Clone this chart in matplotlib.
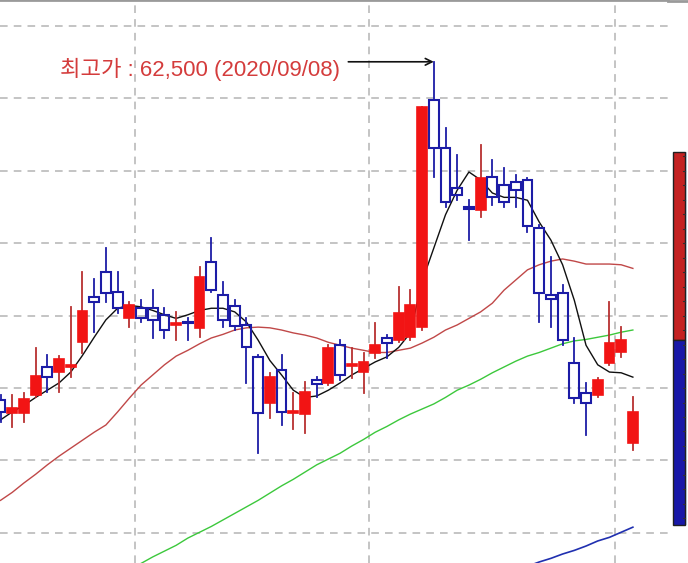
import matplotlib
matplotlib.use("Agg")
import matplotlib.pyplot as plt
from matplotlib.patches import Rectangle
import numpy as np

plt.rcParams['font.family'] = ['Liberation Sans', 'Noto Sans CJK KR', 'DejaVu Sans']

# daily candles (won), oldest first
opens = [39150, 38250, 38250, 39500, 41450, 41100, 41450, 43150, 46250, 48000,
         46600, 44800, 45500, 45500, 45050, 44350, 44550, 44150, 48700, 46400,
         45650, 44350, 42150, 38950, 41250, 38250, 38200, 40550, 40350, 42950,
         41500, 41100, 42400, 43450, 43300, 43500, 44200, 59850, 56550, 53800,
         52500, 52250, 54550, 54000, 54200, 54350, 51050, 46400, 46550, 41700,
         39650, 39500, 41700, 42450, 36200]
highs = [39500, 39500, 39650, 42750, 42250, 42200, 45600, 48000, 47500, 49650,
         48000, 45900, 46050, 46750, 45500, 45250, 44800, 48350, 50350, 47300,
         46050, 44800, 42250, 41050, 42250, 39650, 40400, 40750, 42950, 43300,
         42750, 42400, 44450, 43650, 46950, 46750, 59400, 62500, 57950, 56050,
         52950, 56750, 55700, 55150, 54700, 54500, 51250, 49050, 47100, 43450,
         40350, 40700, 45900, 44200, 39350]
lows = [37650, 37300, 37650, 39350, 39700, 39700, 40750, 42400, 43850, 45900,
        45150, 44200, 44550, 43450, 43450, 43300, 43300, 43500, 46600, 44200,
        44000, 40350, 35550, 37900, 37450, 37150, 36900, 39350, 40200, 40550,
        40700, 39650, 42050, 42050, 43150, 43300, 44000, 54550, 52500, 52950,
        50200, 51800, 52600, 52500, 52500, 50750, 44550, 44200, 42950, 39000,
        36750, 39350, 41600, 42150, 35700]
closes = [38350, 38600, 39250, 40800, 40750, 42000, 41600, 45300, 45900, 46550,
          45500, 45700, 44800, 44700, 44000, 44450, 44450, 47650, 46750, 44700,
          44250, 42800, 38250, 40750, 38350, 38400, 39700, 40250, 42750, 40900,
          41650, 41800, 42950, 43100, 45150, 45700, 59400, 56550, 52800, 53300,
          52350, 54500, 53150, 52800, 53650, 51150, 46550, 46150, 43300, 39300,
          38950, 40550, 43100, 43300, 38350]

# moving averages as drawn on the chart
ma5 = [37800, 38350, 38800, 39350, 39850, 40350, 41100, 42250, 43500, 44700,
       45500, 45700, 45600, 45350, 45050, 44800, 45050, 45350, 45500, 45500,
       45250, 44550, 43300, 41900, 40900, 39850, 39350, 39450, 39850, 40350,
       40900, 41350, 41800, 42150, 42800, 43800, 47350, 49650, 51950, 53650,
       54900, 54350, 53450, 53150, 53150, 52950, 51450, 50200, 48500, 46050,
       42950, 41600, 41100, 41050, 40750]
ma20 = [32250, 32800, 33450, 34050, 34700, 35300, 35850, 36400, 36950, 37450,
        38350, 39300, 40200, 40900, 41600, 42200, 42600, 43050, 43450, 43700,
        44000, 44150, 44200, 44150, 44000, 43800, 43650, 43450, 43150, 42950,
        42750, 42600, 42450, 42450, 42600, 42750, 43100, 43500, 44000, 44350,
        44800, 45250, 45850, 46750, 47450, 48150, 48500, 48750, 48900, 48750,
        48550, 48550, 48550, 48500, 48250]
ma60_start = 10
ma60 = [27100, 27500, 27900, 28350, 28750, 29150, 29650, 30050, 30450, 30900,
        31350, 31800, 32250, 32750, 33250, 33700, 34200, 34700, 35100, 35500,
        36000, 36450, 36950, 37350, 37800, 38200, 38550, 38900, 39350, 39850,
        40200, 40600, 41050, 41450, 41850, 42200, 42450, 42750, 43050, 43250,
        43350, 43500, 43650, 43850, 44000]
ma120_start = 44
ma120 = [27450, 27700, 28000, 28250, 28550, 28800, 29100, 29450, 29700, 30050,
         30400]

month_breaks = [11.5, 31.5, 52.5]
grid_prices = [30000, 35000, 40000, 45000, 50000, 55000, 60000, 65000]
peak_label = '최고가 : 62,500 (2020/09/08)'
peak_idx = 37
peak_price = 62500

# right-hand bar (price split)
bar_bottom, bar_split, bar_top = 30550, 43300, 56300

up_col = '#f21414'
up_wick = '#b83030'
down_col = '#1c1ca6'

fig = plt.figure(figsize=(6.88, 5.63), dpi=100)
ax = fig.add_axes([0, 0, 668 / 688, 1])
ax.set_xlim(-0.043, 57.0)
ax.set_ylim(27930, 66762)

for g in grid_prices:
    ax.axhline(g, color='#b4b4b4', lw=1.1, ls=(0, (5, 4)), zorder=0)
for m in month_breaks:
    ax.axvline(m, color='#b4b4b4', lw=1.1, ls=(0, (5, 4)), zorder=0)

# moving averages
n = len(closes)
xs = np.arange(n)
ax.plot(xs, ma20, color='#c04848', lw=1.0, zorder=2)
ax.plot(xs[ma60_start:ma60_start + len(ma60)], ma60, color='#3cc83c', lw=1.0, zorder=2)
ax.plot(xs[ma120_start:ma120_start + len(ma120)], ma120, color='#2030b0', lw=1.2, zorder=2)
ax.plot(xs, ma5, color='#101010', lw=1.0, zorder=2)

# candles
w = 0.84
for i in range(n):
    o, h, l, c = opens[i], highs[i], lows[i], closes[i]
    top, bot = max(o, c), min(o, c)
    if c >= o:
        ax.plot([i, i], [l, h], color=up_wick, lw=1.3, zorder=3)
        ax.add_patch(Rectangle((i - w / 2, bot), w, max(top - bot, 60),
                               facecolor=up_col, edgecolor=up_col, lw=1.2, zorder=4))
    else:
        ax.plot([i, i], [top, h], color=down_col, lw=1.3, zorder=3)
        ax.plot([i, i], [l, bot], color=down_col, lw=1.3, zorder=3)
        ax.add_patch(Rectangle((i - w / 2, bot), w, max(top - bot, 60),
                               fill=False, edgecolor=down_col, lw=1.5, zorder=4))

# peak annotation
ax.text(29.0, 61950, peak_label, color='#d43c3c', fontsize=16,
        ha='right', va='center', zorder=5)
ax.annotate('', xy=(peak_idx, peak_price), xytext=(29.7, peak_price),
            arrowprops=dict(arrowstyle='->', color='#111111', lw=1.2,
                            shrinkA=0, shrinkB=0, mutation_scale=12),
            zorder=5)

ax.set_xticks([])
ax.set_yticks([])
for s in ['left', 'right', 'bottom']:
    ax.spines[s].set_visible(False)
ax.spines['top'].set_color('#9a9a9a')
ax.spines['top'].set_linewidth(2)

# side bar
ax2 = fig.add_axes([668 / 688, 0, 20 / 688, 1])
ax2.set_xlim(0, 20)
ax2.set_ylim(27930, 66762)
ax2.bar(17.5, bar_top - bar_bottom, bottom=bar_bottom, width=3,
        color='#cfe0f2', edgecolor='none')
ax2.bar(11, bar_top - bar_split, bottom=bar_split, width=12,
        color='#c42222', edgecolor='#202020', lw=1.0)
ax2.bar(11, bar_split - bar_bottom, bottom=bar_bottom, width=12,
        color='#1818a8', edgecolor='#202020', lw=1.0)
for t in range(31000, 57000, 1000):
    ax2.plot([15, 17], [t, t], color='#303030', lw=0.8)
ax2.axis('off')
fig.add_artist(plt.Line2D([668 / 688, 1], [1 - 1 / 563, 1 - 1 / 563],
                          color='#9a9a9a', lw=2))

fig.savefig('out.png', dpi=100, facecolor='white')
